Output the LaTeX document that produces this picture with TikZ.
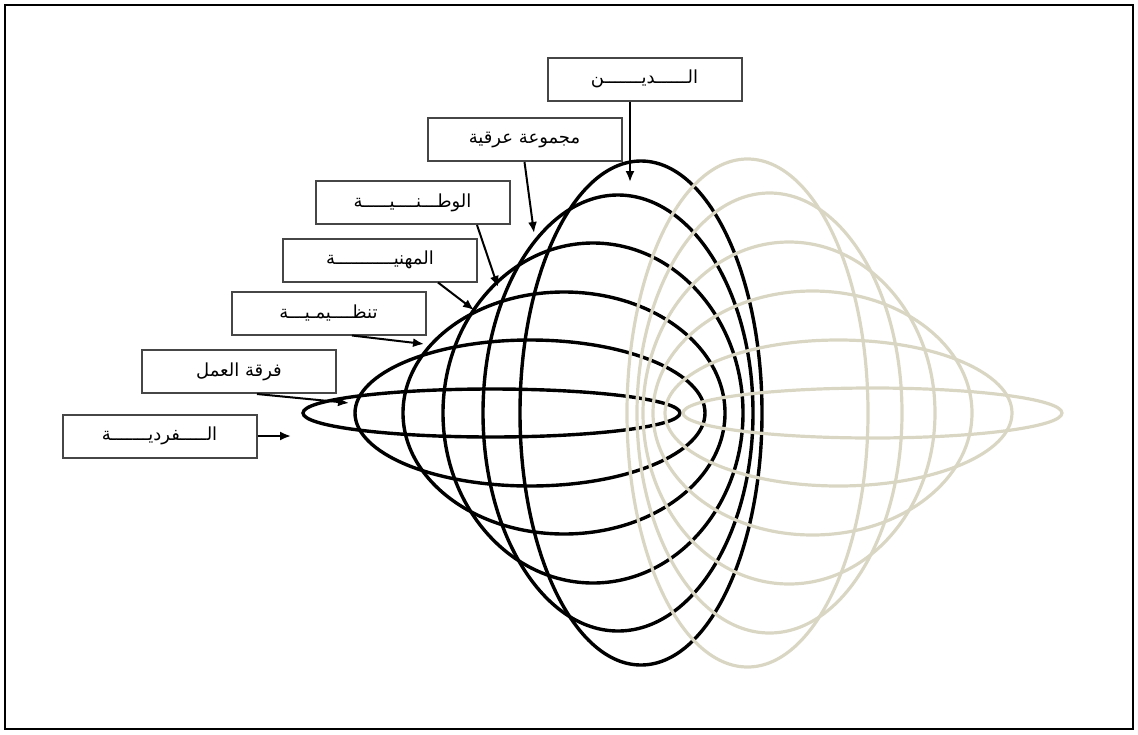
\documentclass[tikz,border=0pt]{standalone}
\usepackage{fontspec}
\usetikzlibrary{arrows.meta}
\newfontfamily\arabicfont[Script=Arabic]{DejaVu Sans}
\TeXXeTstate=1
\definecolor{beige}{RGB}{218,214,196}
\definecolor{boxgray}{RGB}{70,70,70}
\begin{document}
\begin{tikzpicture}[x=1pt,y=-1pt,
  lbl/.style={draw=boxgray,line width=2pt,minimum width=194pt,minimum height=43pt,inner sep=0pt,fill=white,
    font=\arabicfont\fontsize{18}{20}\selectfont},
  arr/.style={line width=2pt,-{Latex[length=11pt,width=9pt]}},
  blk/.style={line width=3.4pt,black},
  bge/.style={line width=3.2pt,beige}]
\useasboundingbox (0,0) rectangle (1138,734);
\draw[line width=2.4pt] (5,5) rectangle (1133,729);
% black ellipses
\draw[blk] (491.5,413) ellipse [x radius=188.5, y radius=24];
\draw[blk] (530,413) ellipse [x radius=175, y radius=73];
\draw[blk] (564,413) ellipse [x radius=161, y radius=121];
\draw[blk] (593,413) ellipse [x radius=150, y radius=170];
\draw[blk] (618,413) ellipse [x radius=135, y radius=218];
\draw[blk] (641,413) ellipse [x radius=121, y radius=252];
% beige ellipses
\draw[bge] (872.5,413) ellipse [x radius=189.5, y radius=25];
\draw[bge] (838.5,413) ellipse [x radius=173.5, y radius=73];
\draw[bge] (812.5,413) ellipse [x radius=159.5, y radius=122];
\draw[bge] (789,413) ellipse [x radius=146, y radius=171];
\draw[bge] (769.5,413) ellipse [x radius=132.5, y radius=220];
\draw[bge] (747.5,413) ellipse [x radius=120.5, y radius=254];
% label boxes
\node[lbl] (din) at (644.5,79) {\beginR الــــــديـــــــن\endR};
\node[lbl] (irq) at (524.5,139.5) {\beginR مجموعة عرقية\endR};
\node[lbl] (watan) at (412.5,202.5) {\beginR الوطـــنــــيـــــة\endR};
\node[lbl] (mihan) at (380,260) {\beginR المهنيـــــــــــة\endR};
\node[lbl] (tanz) at (328.5,313) {\beginR تنظــــيمـيـــة\endR};
\node[lbl] (firqa) at (239,371.5) {\beginR فرقة العمل\endR};
\node[lbl] (fard) at (159.5,436) {\beginR الـــــفرديـــــــة\endR};
% arrow targets
\coordinate (tdin) at (630,182);
\coordinate (tirq) at (534,233);
\coordinate (twatan) at (498,287);
\coordinate (tmihan) at (474,310);
\coordinate (ttanz) at (424,344);
\coordinate (tfirqa) at (349,403);
\coordinate (tfard) at (291,436);
\draw[arr] ([xshift=-14.5pt]din.south) -- (tdin);
\draw[arr] (irq.south) -- (tirq);
\draw[arr] ([xshift=64.5pt]watan.south) -- (twatan);
\draw[arr] ([xshift=58pt]mihan.south) -- (tmihan);
\draw[arr] ([xshift=23.5pt]tanz.south) -- (ttanz);
\draw[arr] ([xshift=18pt]firqa.south) -- (tfirqa);
\draw[arr] (fard.east) -- (tfard);
\end{tikzpicture}
\end{document}
